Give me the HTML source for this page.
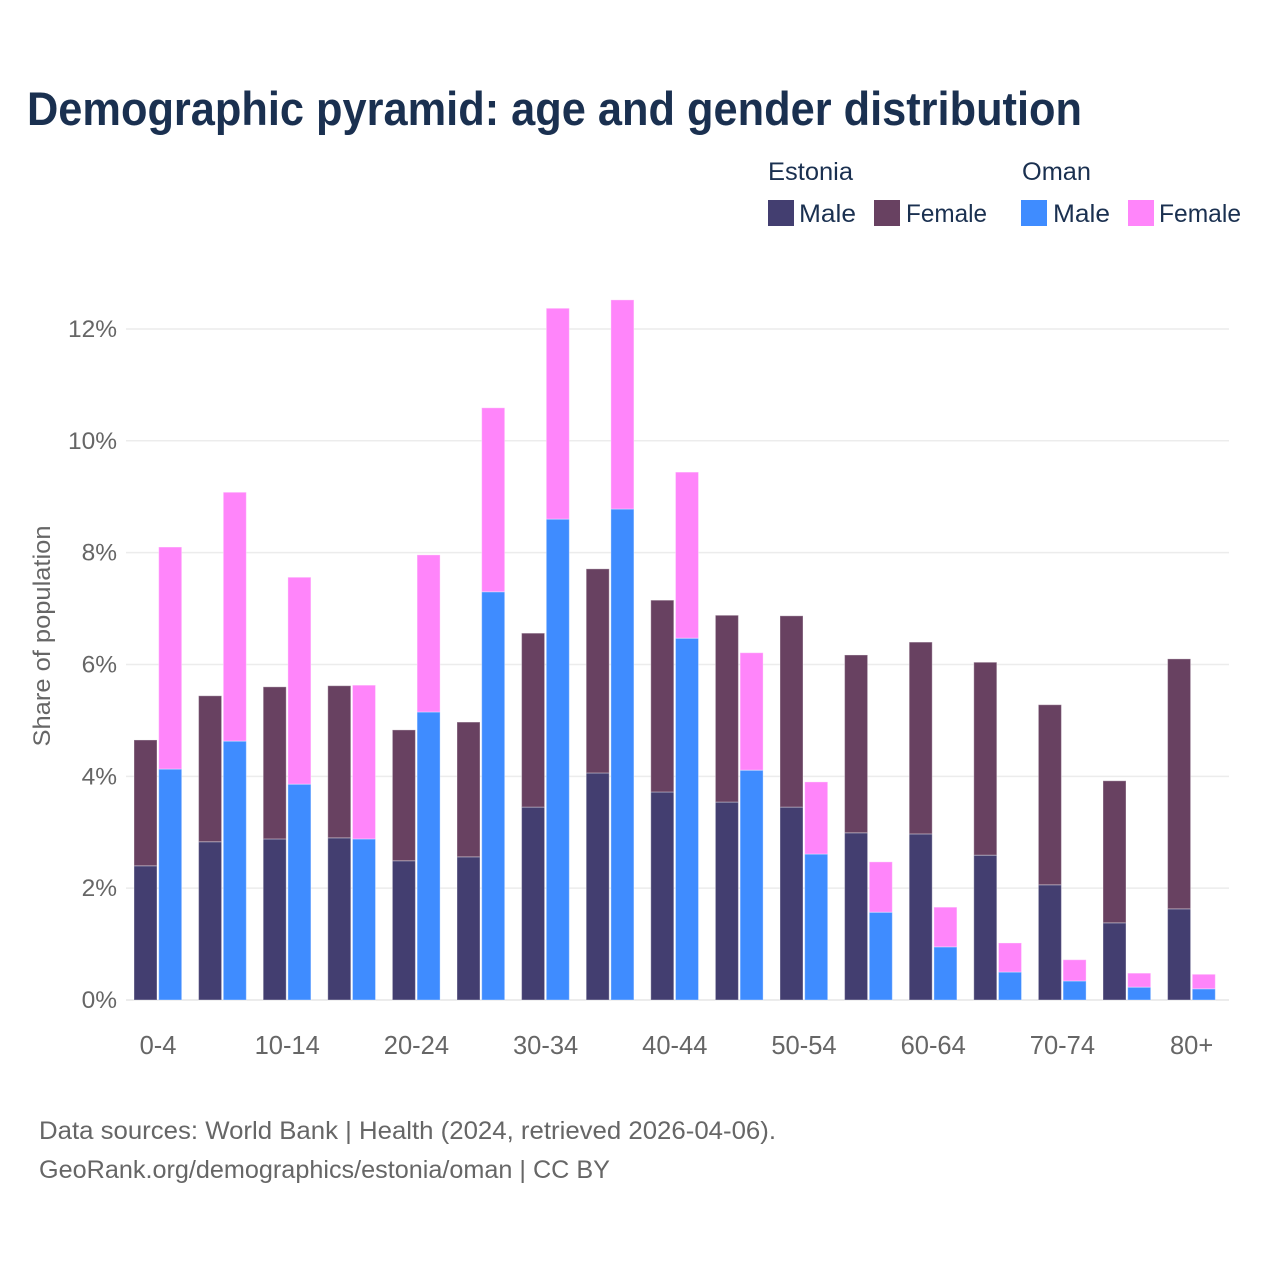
<!DOCTYPE html>
<html lang="en">
<head>
<meta charset="utf-8">
<title>Demographic pyramid</title>
<style>
html,body{margin:0;padding:0;background:#fff}
svg{display:block}
text{font-family:"Liberation Sans",sans-serif}
</style>
</head>
<body>
<svg id="chart" xmlns="http://www.w3.org/2000/svg" width="1280" height="1280" viewBox="0 0 1280 1280">
  <rect width="1280" height="1280" fill="#fff"/>
  <text x="27" y="125" font-size="47" font-weight="700" fill="#1a3050" textLength="1055" lengthAdjust="spacingAndGlyphs">Demographic pyramid: age and gender distribution</text>

  <g font-size="25" fill="#1a3050">
    <text x="768" y="180" textLength="85" lengthAdjust="spacingAndGlyphs">Estonia</text>
    <text x="1022" y="180" textLength="69" lengthAdjust="spacingAndGlyphs">Oman</text>
    <rect x="768" y="200" width="26" height="26" fill="#433e70"/>
    <text x="799" y="222" textLength="57" lengthAdjust="spacingAndGlyphs">Male</text>
    <rect x="874" y="200" width="26" height="26" fill="#684161"/>
    <text x="906" y="222" textLength="81" lengthAdjust="spacingAndGlyphs">Female</text>
    <rect x="1021" y="200" width="26" height="26" fill="#3f8cff"/>
    <text x="1053" y="222" textLength="57" lengthAdjust="spacingAndGlyphs">Male</text>
    <rect x="1128" y="200" width="26" height="26" fill="#ff85fa"/>
    <text x="1159" y="222" textLength="82" lengthAdjust="spacingAndGlyphs">Female</text>
  </g>

  <text transform="translate(50,636) rotate(-90)" text-anchor="middle" font-size="24" fill="#666" textLength="221" lengthAdjust="spacingAndGlyphs">Share of population</text>

  <g id="grid"></g>
  <g id="ylabels"></g>
  <g id="bars"></g>
  <g id="xlabels"></g>

  <g font-size="25" fill="#666">
    <text x="39" y="1139" textLength="737" lengthAdjust="spacingAndGlyphs">Data sources: World Bank | Health (2024, retrieved 2026-04-06).</text>
    <text x="39" y="1178" textLength="571" lengthAdjust="spacingAndGlyphs">GeoRank.org/demographics/estonia/oman | CC BY</text>
  </g>
</svg>
<script>
const categories = ["0-4","5-9","10-14","15-19","20-24","25-29","30-34","35-39","40-44","45-49","50-54","55-59","60-64","65-69","70-74","75-79","80+"];
const shownLabels = ["0-4","10-14","20-24","30-34","40-44","50-54","60-64","70-74","80+"];
const estoniaMale = [2.40,2.83,2.88,2.90,2.49,2.56,3.45,4.06,3.72,3.54,3.45,2.99,2.97,2.59,2.06,1.38,1.63];
const estoniaFemale = [2.25,2.61,2.72,2.72,2.34,2.41,3.11,3.65,3.43,3.34,3.42,3.18,3.43,3.45,3.22,2.54,4.47];
const omanMale = [4.13,4.63,3.86,2.88,5.15,7.30,8.60,8.78,6.47,4.11,2.61,1.57,0.95,0.50,0.34,0.23,0.20];
const omanFemale = [3.97,4.45,3.70,2.75,2.81,3.29,3.77,3.74,2.97,2.10,1.29,0.90,0.71,0.52,0.38,0.25,0.26];
const yTicks = [0,2,4,6,8,10,12];

const NS = 'http://www.w3.org/2000/svg';
const yScale = v => 1000 - v * 55.92;
const xBand = i => 158 + i * 64.6;
const barW = 23;

function make(tag, attrs, parent) {
  const el = document.createElementNS(NS, tag);
  for (const k in attrs) el.setAttribute(k, attrs[k]);
  parent.appendChild(el);
  return el;
}

const grid = document.getElementById('grid');
const ylabels = document.getElementById('ylabels');
yTicks.forEach(t => {
  const line = make('line', {x1: 126, x2: 1229, y1: yScale(t), y2: yScale(t), stroke: t === 0 ? '#e6e6e6' : '#ececec', 'stroke-width': 1.5}, grid);
  
  
  const label = make('text', {x: 117, y: yScale(t) + 8, 'text-anchor': 'end', 'font-size': 24.5, fill: '#666'}, ylabels);
  
  
  label.textContent = t + '%';
});

const bars = document.getElementById('bars');
function segment(x, base, value, fill, name) {
  const top = yScale(base + value);
  const r = make('rect', {x: x, y: top, width: barW, height: yScale(base) - top, fill: fill, stroke: '#fff', 'stroke-opacity': 0.35, 'stroke-width': 1}, bars);
  
  
}
categories.forEach((c, i) => {
  const cx = xBand(i);
  segment(cx - 24, 0, estoniaMale[i], '#433e70', 'bar-estonia-male-' + c);
  segment(cx - 24, estoniaMale[i], estoniaFemale[i], '#684161', 'bar-estonia-female-' + c);
  segment(cx + 0.7, 0, omanMale[i], '#3f8cff', 'bar-oman-male-' + c);
  segment(cx + 0.7, omanMale[i], omanFemale[i], '#ff85fa', 'bar-oman-female-' + c);
});

const xlabels = document.getElementById('xlabels');
shownLabels.forEach(c => {
  const label = make('text', {x: xBand(categories.indexOf(c)), y: 1054, 'text-anchor': 'middle', 'font-size': 25.5, fill: '#666'}, xlabels);
  
  
  label.textContent = c;
});
</script>
</body>
</html>
